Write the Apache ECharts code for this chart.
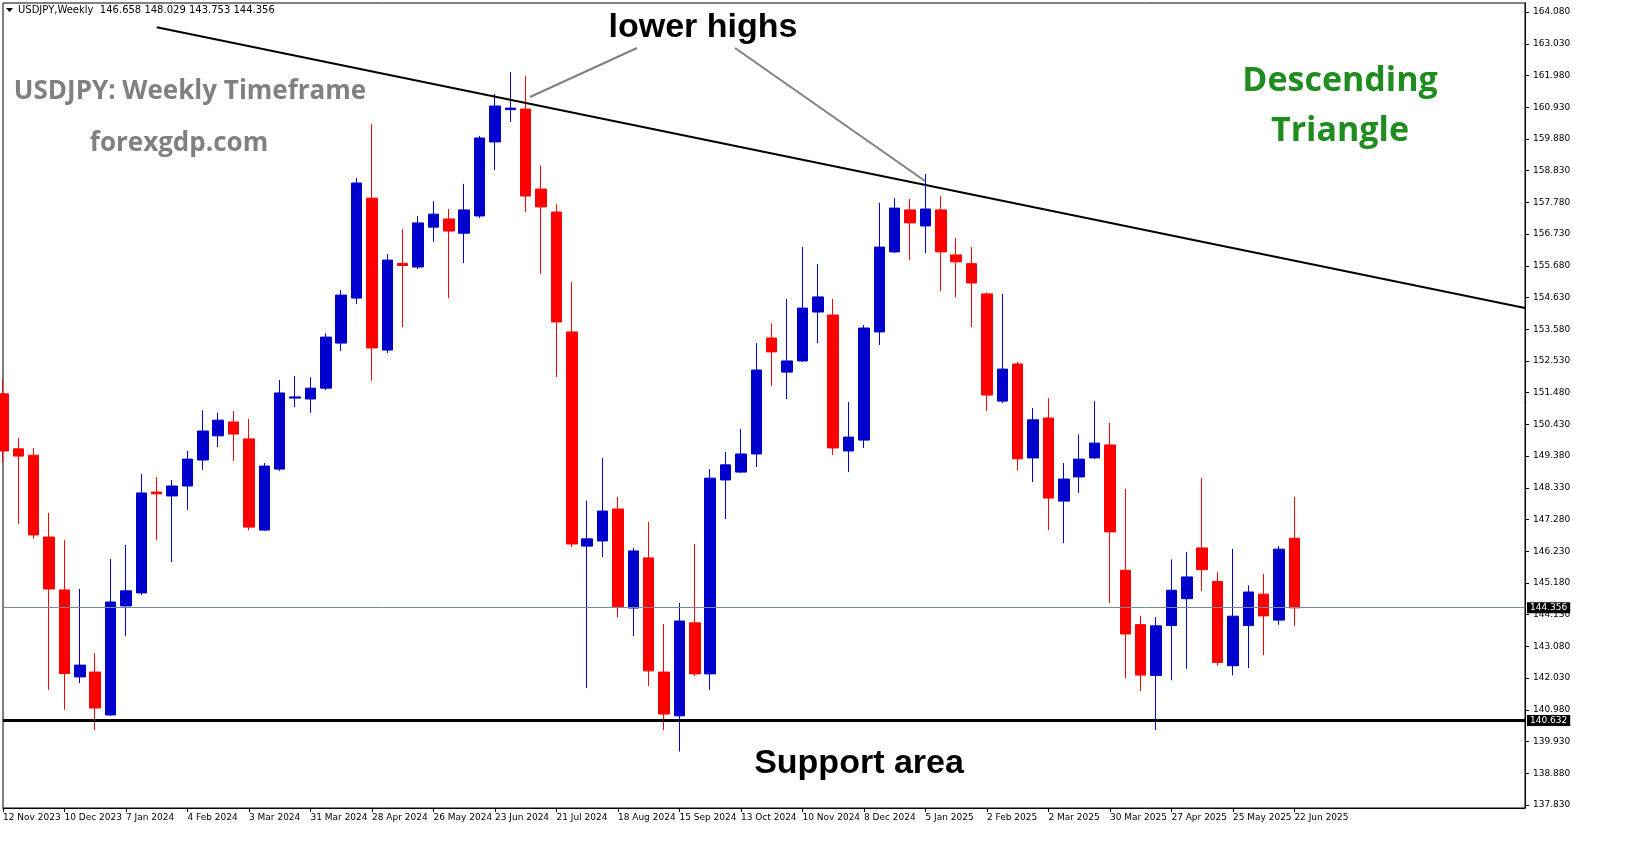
<!DOCTYPE html>
<html><head><meta charset="utf-8">
<script src="https://cdn.jsdelivr.net/npm/echarts@6/dist/echarts.min.js"></script>
<style>html,body{margin:0;padding:0;background:#fff}#c{width:1631px;height:861px}</style>
</head><body><div id="c"></div>
<script>
// Weekly candles [open, close, low, high]
const opens  = [151.44,149.62,149.41,146.70,144.95,142.07,142.23,140.81,144.42,144.85,148.19,148.06,148.39,149.25,150.05,150.51,149.95,146.93,148.95,151.30,151.27,151.63,153.12,154.61,157.92,152.89,155.76,155.64,156.96,157.23,156.76,157.33,159.78,160.85,160.87,158.22,157.46,153.49,146.40,146.57,147.63,144.35,146.01,142.23,140.78,143.86,142.17,148.59,148.85,149.45,153.29,152.16,152.53,154.15,154.05,149.55,149.91,153.49,156.14,157.53,157.00,157.53,156.04,155.75,154.75,151.20,152.43,149.32,150.64,147.89,148.69,149.32,149.75,145.60,143.80,142.12,143.77,144.66,146.34,145.23,142.44,143.77,144.81,143.95,146.658];
const closes = [149.55,149.38,146.77,144.98,142.18,142.46,141.04,144.55,144.92,148.16,148.13,148.39,149.28,150.21,150.57,150.11,147.03,149.05,151.47,151.34,151.63,153.32,154.71,158.42,152.96,155.87,155.69,157.10,157.39,156.83,157.53,159.91,160.97,160.90,157.99,157.63,153.82,146.47,146.64,147.56,144.39,146.24,142.27,140.84,143.92,142.17,148.65,149.09,149.45,152.23,152.83,152.53,154.28,154.65,149.65,150.01,153.62,156.30,157.59,157.10,157.56,156.14,155.81,155.11,151.40,152.26,149.29,150.58,147.99,148.62,149.28,149.81,146.87,143.49,142.13,143.76,144.94,145.38,145.62,142.55,144.08,144.88,144.09,146.30,144.356];
const lows   = [149.18,147.13,146.64,141.64,140.98,141.87,140.31,140.78,143.43,144.78,146.60,145.87,147.60,148.92,149.68,149.22,146.93,146.90,148.89,151.00,150.81,151.57,152.86,154.41,151.87,152.79,153.65,155.57,156.47,154.61,155.77,157.26,158.85,160.44,157.46,155.41,152.00,146.37,141.70,146.04,144.05,143.42,141.77,140.31,139.60,142.10,141.64,147.30,148.82,149.02,151.70,151.27,152.50,153.12,149.42,148.85,149.65,153.06,156.10,155.87,156.10,154.84,154.64,153.65,150.87,151.14,148.90,148.52,146.93,146.50,148.16,149.28,144.52,142.03,141.60,140.31,141.96,142.34,144.92,142.44,142.12,142.36,142.79,143.80,143.753];
const highs  = [151.93,149.98,149.65,147.50,146.60,144.98,142.86,145.97,146.44,148.79,148.69,148.59,149.55,150.90,150.81,150.87,150.61,149.15,151.90,152.03,151.99,153.45,154.88,158.59,160.37,156.07,156.90,157.33,157.82,157.56,158.39,159.98,161.37,162.09,161.96,159.00,157.72,155.14,147.90,149.32,148.03,146.34,147.20,143.82,144.52,146.47,148.95,149.52,150.28,153.12,153.78,154.58,156.30,155.74,154.58,151.17,153.72,157.76,157.92,157.89,158.72,157.99,156.60,156.30,154.80,154.75,152.50,150.97,151.30,149.15,150.10,151.20,150.48,148.29,144.09,144.05,145.96,146.21,148.66,145.54,146.31,145.10,145.48,146.40,148.029];
const tickLabels = ['12 Nov 2023','10 Dec 2023','7 Jan 2024','4 Feb 2024','3 Mar 2024','31 Mar 2024','28 Apr 2024','26 May 2024','23 Jun 2024','21 Jul 2024','18 Aug 2024','15 Sep 2024','13 Oct 2024','10 Nov 2024','8 Dec 2024','5 Jan 2025','2 Feb 2025','2 Mar 2025','30 Mar 2025','27 Apr 2025','25 May 2025','22 Jun 2025'];
const priceTicks = [137.83,138.88,139.93,140.98,142.03,143.08,144.13,145.18,146.23,147.28,148.33,149.38,150.43,151.48,152.53,153.58,154.63,155.68,156.73,157.78,158.83,159.88,160.93,161.98,163.03,164.08];
const trendLine = [[10,163.58],[99,154.28]];
const currentPrice = 144.356;
const supportLevel = 140.632;

const slots = 100;
const categories = [];
for (let i = 0; i < slots; i++) categories.push(i % 4 === 0 && tickLabels[i/4] ? tickLabels[i/4] : '');
const candles = opens.map((o,i)=>[o, closes[i], lows[i], highs[i]]);

const chart = echarts.init(document.getElementById('c'));
const font = 'DejaVu Sans';
chart.setOption({
  animation:false,
  backgroundColor:'#fff',
  grid:{left:3, top:3, right:106, bottom:53, show:true, borderColor:'#000', borderWidth:1},
  xAxis:{type:'category', data:categories, boundaryGap:false,
    axisLine:{lineStyle:{color:'#000'}},
    axisTick:{interval:(i,v)=>v!=='', length:4, lineStyle:{color:'#000'}},
    axisLabel:{interval:(i,v)=>v!=='', align:'left', color:'#000', fontFamily:font, fontSize:9, margin:5},
    splitLine:{show:false}},
  yAxis:{type:'value', position:'right', min:137.73, max:164.38, scale:true,
    axisLine:{show:true, lineStyle:{color:'#000'}},
    axisTick:{show:true, length:4, customValues:priceTicks, lineStyle:{color:'#000'}},
    axisLabel:{customValues:priceTicks, color:'#000', fontFamily:font, fontSize:9, margin:8, formatter:v=>v.toFixed(3)},
    splitLine:{show:false}},
  series:[
    {type:'candlestick', data:candles, barWidth:11,
      itemStyle:{color:'#0000CC', color0:'#FF0000', borderColor:'#0000CC', borderColor0:'#FF0000', borderWidth:1},
      markLine:{symbol:'none', silent:true, animation:false,
        data:[
          {yAxis:currentPrice, lineStyle:{color:'#778899', width:1, type:'solid'},
            label:{position:'end', distance:2, formatter:currentPrice.toFixed(3), color:'#fff', backgroundColor:'#000', fontFamily:font, fontSize:9, padding:[1,3]}},
          {yAxis:supportLevel, lineStyle:{color:'#000', width:3, type:'solid'},
            label:{position:'end', distance:2, formatter:supportLevel.toFixed(3), color:'#fff', backgroundColor:'#000', fontFamily:font, fontSize:9, padding:[1,3]}}
        ]}},
    {type:'line', data:trendLine, symbol:'none', lineStyle:{color:'#000', width:2}, z:5}
  ],
  graphic:[
    {type:'polygon', shape:{points:[[6,8],[13,8],[9.5,12]]}, style:{fill:'#000'}},
    {type:'text', left:18, top:5, style:{text:'USDJPY,Weekly  146.658 148.029 143.753 144.356', font:'10px "DejaVu Sans"', fill:'#000'}},
    {type:'line', shape:{x1:637,y1:48,x2:530,y2:97}, style:{stroke:'#808080', lineWidth:2}},
    {type:'line', shape:{x1:735,y1:48,x2:925,y2:181}, style:{stroke:'#808080', lineWidth:2}},
    {type:'text', x:703, y:28, style:{text:'lower highs', font:'bold 34px "Liberation Sans"', fill:'#000', align:'center', verticalAlign:'middle'}},
    {type:'text', x:190, y:92, style:{text:'USDJPY: Weekly Timeframe', font:'bold 26px "Open Sans"', fill:'#808080', align:'center', verticalAlign:'middle'}},
    {type:'text', x:179, y:144, style:{text:'forexgdp.com', font:'bold 26px "Open Sans"', fill:'#808080', align:'center', verticalAlign:'middle'}},
    {type:'text', x:1340, y:81, style:{text:'Descending', font:'bold 34px "Open Sans"', fill:'#1E8C1E', align:'center', verticalAlign:'middle'}},
    {type:'text', x:1340, y:131, style:{text:'Triangle', font:'bold 34px "Open Sans"', fill:'#1E8C1E', align:'center', verticalAlign:'middle'}},
    {type:'text', x:859, y:764, style:{text:'Support area', font:'bold 34px "Liberation Sans"', fill:'#000', align:'center', verticalAlign:'middle'}}
  ]
});
</script></body></html>
